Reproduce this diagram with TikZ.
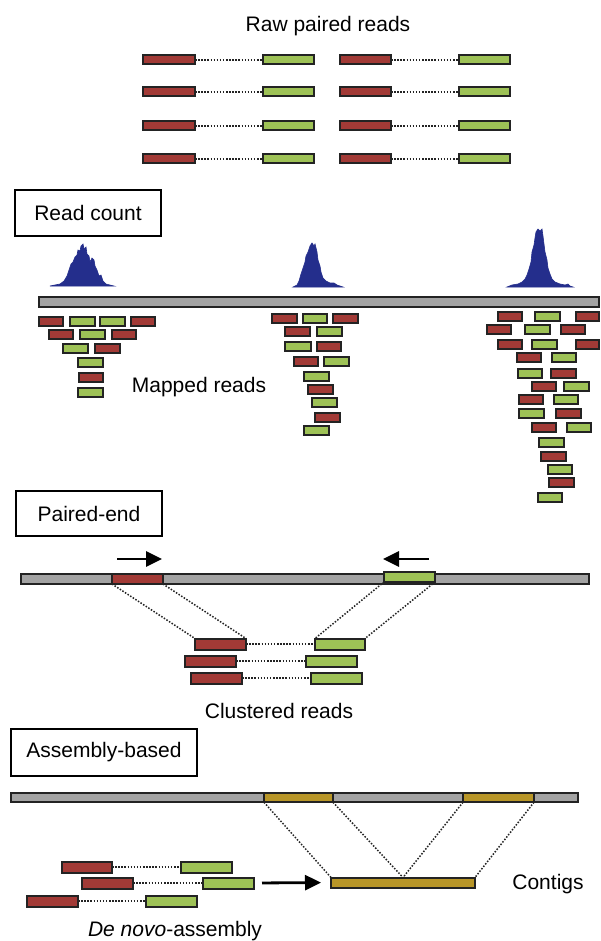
\documentclass[tikz,border=0pt]{standalone}
\usepackage{fontspec}
\setmainfont{Liberation Sans}
\usetikzlibrary{arrows.meta}
\definecolor{readred}{RGB}{162,58,54}
\definecolor{readgreen}{RGB}{158,194,86}
\definecolor{bargray}{RGB}{163,163,163}
\definecolor{goldseg}{RGB}{184,150,40}
\definecolor{peakblue}{RGB}{36,46,140}
\definecolor{edgecol}{RGB}{35,35,35}
\newcommand\mkread[6]{\node[#1, minimum width={(#4)-(#3)-2}, minimum height={(#6)-2}] (#2) at ({((#3)+(#4))/2},#5) {};}
\begin{document}
\begin{tikzpicture}[x=1pt,y=-1pt,
  font=\fontsize{21pt}{25pt}\selectfont,
  readbox/.style={draw=edgecol, line width=2pt, inner sep=0pt, outer sep=0pt},
  rr/.style={readbox, fill=readred},
  gr/.style={readbox, fill=readgreen},
  gd/.style={readbox, fill=goldseg},
  chrbar/.style={draw=edgecol, line width=1.8pt, fill=bargray, inner sep=0pt, outer sep=0pt},
  labelbox/.style={draw=black, line width=1.6pt, inner sep=0pt, align=center},
  pairline/.style={draw=edgecol, line width=1.5pt, dash pattern=on 1.5pt off 1.6pt},
  guide/.style={draw=edgecol, line width=1.5pt, dash pattern=on 1.5pt off 1.6pt},
  bigarrow/.style={draw=black, line width=2.8pt, -{Triangle[length=16pt,width=15pt]}},
  peak/.style={fill=peakblue, draw=peakblue, line width=0.6pt},
  txt/.style={inner sep=0pt}]
\fill[white] (0,0) rectangle (601,941);
\useasboundingbox (0,0) rectangle (601,941);

% ---------- Raw paired reads ----------
\node[txt, anchor=base] (rawt) at (328,32) {Raw paired reads};
\foreach \y [count=\i] in {60,92,126,159}{
  \mkread{rr}{pa\i}{142}{196}{\y}{11}
  \mkread{gr}{pb\i}{262}{315}{\y}{11}
  \mkread{rr}{pc\i}{339}{392}{\y}{11}
  \mkread{gr}{pd\i}{458}{511}{\y}{11}
  \draw[pairline] (pa\i) -- (pb\i);
  \draw[pairline] (pc\i) -- (pd\i);
}

% ---------- Read count ----------
\node[labelbox, minimum width=146.5, minimum height=46.5] (rc) at (88,213) {Read count};
\fill[peak] (50,286) -- (55,285) -- (60,284) -- (64,281) -- (67,276) -- (69,270) -- (71,264) -- (73,262) -- (75,257) -- (77,255) -- (78,250) -- (80,251) -- (81,246) -- (83,244) -- (84,249) -- (86,247) -- (87,254) -- (89,256) -- (90,262) -- (92,258) -- (94,260) -- (95,266) -- (97,270) -- (99,276) -- (101,275) -- (103,281) -- (106,284) -- (110,285) -- (114,286) -- cycle;
\fill[peak] (293,287) -- (297,285) -- (299,281) -- (301,274) -- (303,268) -- (305,262) -- (306,256) -- (308,252) -- (310,246) -- (312,243) -- (314,246) -- (315,244) -- (317,252) -- (318,260) -- (320,266) -- (321,272) -- (323,278) -- (326,281) -- (330,283) -- (334,283) -- (337,285) -- (343,287) -- cycle;
\fill[peak] (507,287) -- (512,285) -- (518,284) -- (522,282) -- (525,279) -- (527,275) -- (529,269) -- (531,262) -- (532,252) -- (534,245) -- (535,238) -- (536,232) -- (538,229) -- (540,231) -- (542,229) -- (543,236) -- (544,244) -- (545,252) -- (547,260) -- (548,268) -- (550,274) -- (552,279) -- (555,282) -- (560,284) -- (565,285) -- (568,284) -- (570,286) -- (573,287) -- cycle;
\node[chrbar, minimum width=560, minimum height=10.5] (chrA) at (319,302) {};
\foreach \t/\a/\b/\y [count=\i] in {
  rr/38/64/321, gr/69/96/321, gr/99/126/321, rr/130/156/321,
  rr/48/74/334, gr/79/106/334, rr/111/137/334,
  gr/62/89/348, rr/94/121/348,
  gr/77/104/362, rr/78/104/377, gr/77/104/392,
  rr/271/298/318, gr/302/328/318, rr/332/359/318,
  rr/284/311/331, gr/316/343/331,
  gr/284/312/346, rr/316/342/346,
  rr/293/319/361, gr/323/350/361,
  gr/303/330/376, rr/307/334/389, gr/311/338/402, rr/314/341/417, gr/303/330/430,
  rr/497/523/316, gr/534/561/316, rr/575/600/316,
  rr/486/512/329, gr/524/551/329, rr/560/586/329,
  rr/497/523/344, gr/531/558/344, rr/575/600/344,
  rr/516/542/357, gr/551/577/357,
  gr/517/543/373, rr/550/577/373,
  rr/531/557/386, gr/563/590/386,
  rr/518/544/399, gr/553/579/399,
  gr/518/545/413, rr/555/582/413,
  rr/531/557/427, gr/566/592/427,
  gr/538/565/442, rr/540/567/456, gr/547/573/469, rr/548/575/482, gr/537/563/497}{
  \mkread{\t}{m\i}{\a}{\b}{\y}{11}
}
\node[txt] (mapt) at (199,387) {Mapped reads};

% ---------- Paired-end ----------
\node[labelbox, minimum width=146.5, minimum height=45.5] (pe) at (89,513.5) {Paired-end};
\coordinate (ra1) at (117,559); \coordinate (ra2) at (162,559);
\coordinate (la1) at (429,559); \coordinate (la2) at (383,559);
\draw[bigarrow] (ra1) -- (ra2);
\draw[bigarrow] (la1) -- (la2);
\node[chrbar, minimum width=568, minimum height=10.5] (chrB) at (305,579) {};
\mkread{rr}{sr}{111}{164}{579}{12}
\mkread{gr}{sg}{383}{436}{577}{12}
\mkread{rr}{cr1}{194}{247}{644}{13}
\mkread{gr}{cg1}{314}{366}{644}{13}
\mkread{rr}{cr2}{184}{237}{661}{13}
\mkread{gr}{cg2}{305}{358}{661}{13}
\mkread{rr}{cr3}{190}{243}{678}{13}
\mkread{gr}{cg3}{310}{363}{678}{13}
\draw[pairline] (cr1) -- (cg1);
\draw[pairline] (cr2) -- (cg2);
\draw[pairline] (cr3) -- (cg3);
\draw[guide] (sr.south west) -- (cr1.north west);
\draw[guide] (sr.south east) -- (cr1.north east);
\draw[guide] (sg.south west) -- (cg1.north west);
\draw[guide] (sg.south east) -- (cg1.north east);
\node[txt] (clt) at (279,711) {Clustered reads};

% ---------- Assembly-based ----------
\node[labelbox, minimum width=186.5, minimum height=47.5] (ab) at (104,752.5) {Assembly-based};
\node[chrbar, minimum width=567, minimum height=9.5] (chrC) at (294.5,797.5) {};
\mkread{gd}{gs1}{263}{334}{797.5}{11.5}
\mkread{gd}{gs2}{462}{535}{797.5}{11.5}
\mkread{gd}{contig}{330}{476}{882.5}{12}
\draw[guide] (gs1.south west) -- (contig.north west);
\draw[guide] (gs1.south east) -- (contig.north);
\draw[guide] (gs2.south west) -- (contig.north);
\draw[guide] (gs2.south east) -- (contig.north east);
\mkread{rr}{ar1}{61}{113}{867}{13}
\mkread{gr}{ag1}{180}{233}{867}{13}
\mkread{rr}{ar2}{81}{134}{883}{13}
\mkread{gr}{ag2}{202}{255}{883}{13}
\mkread{rr}{ar3}{26}{79}{901}{13}
\mkread{gr}{ag3}{145}{198}{901}{13}
\draw[pairline] (ar1) -- (ag1);
\draw[pairline] (ar2) -- (ag2);
\draw[pairline] (ar3) -- (ag3);
\draw[bigarrow, shorten <=8pt, shorten >=10pt] (ag2.east) -- (contig.west);
\node[txt] (cont) at (548,884) {Contigs};
\node[txt] (dna) at (175,931) {\textit{De novo}-assembly};
\end{tikzpicture}
\end{document}
